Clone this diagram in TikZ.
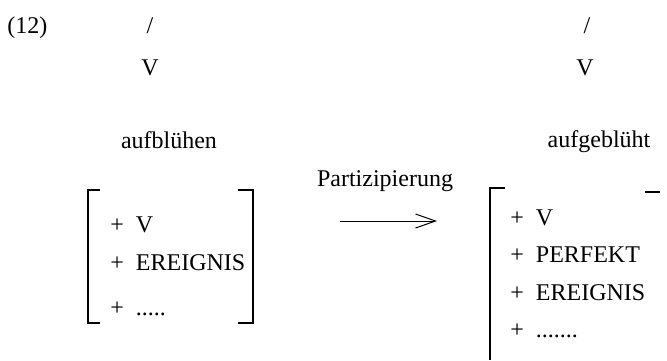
\documentclass[tikz,border=0pt]{standalone}
\usepackage{fontspec}
\setmainfont{Liberation Serif}
\usetikzlibrary{arrows.meta}
\tikzstyle{lbl} = [anchor=base, inner sep=0pt, font=\fontsize{12}{14}\selectfont]
\tikzstyle{feat} = [anchor=base west, inner sep=0pt, font=\fontsize{12}{14}\selectfont]
\tikzstyle{bracket} = [line width=0.6pt]
\tikzstyle{arrow} = [line width=0.5pt,->,>={Straight Barb[length=10pt,width=7pt]}]

\begin{document}
\begin{tikzpicture}[x=0.5pt, y=-0.5pt]
\useasboundingbox (0,0) rectangle (667,360);

\node at (7, 33) (num) [feat] {(12)};

% left side: infinitive
\node at (150, 33) (slashL) [lbl] {/};
\node at (150, 75) (catL) [lbl] {V};
\node at (169, 148) (verbL) [lbl] {aufblühen};

\node at (110, 232) (lV) [feat] {+\enspace V};
\node at (110, 270) (lEv) [feat] {+\enspace EREIGNIS};
\node at (110, 315) (lDots) [feat] {+\enspace .....};

\draw [bracket] (100, 190) -- (88, 190) -- (88, 323) -- (100, 323);
\draw [bracket] (238, 190) -- (253, 190) -- (253, 323) -- (238, 323);

% the rule
\coordinate (arrS) at (340, 221);
\coordinate (arrE) at (437, 221);
\draw [arrow] (arrS) -- (arrE);
\node at (385, 186) (rule) [lbl] {Partizipierung};

% right side: participle
\node at (587, 33) (slashR) [lbl] {/};
\node at (585, 75) (catR) [lbl] {V};
\node at (599, 147) (verbR) [lbl] {aufgeblüht};

\node at (510, 225) (rV) [feat] {+\enspace V};
\node at (510, 262) (rPerf) [feat] {+\enspace PERFEKT};
\node at (510, 300) (rEv) [feat] {+\enspace EREIGNIS};
\node at (510, 337) (rDots) [feat] {+\ \ .......};

\draw [bracket] (505, 188) -- (490, 188) -- (490, 360);
\draw [bracket] (645, 192) -- (660, 192);

\end{tikzpicture}
\end{document}
